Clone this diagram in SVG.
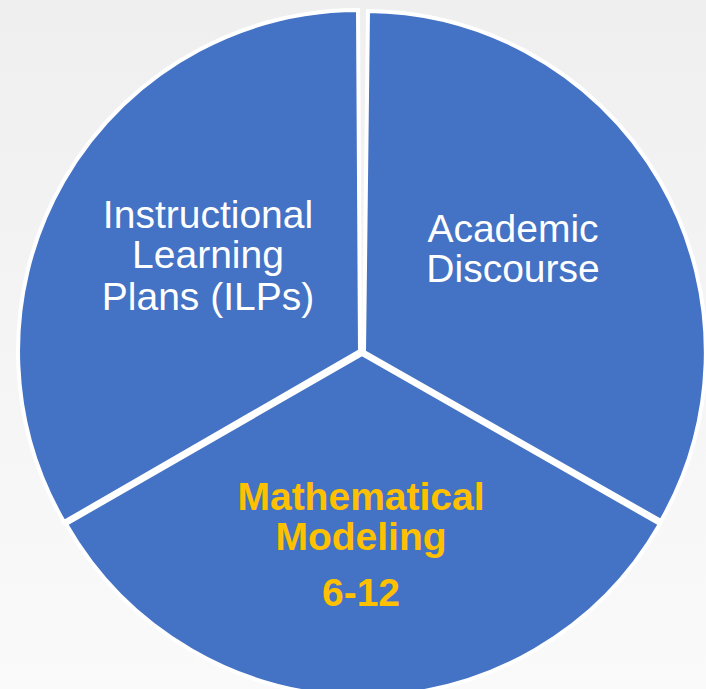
<svg xmlns="http://www.w3.org/2000/svg" width="706" height="689" viewBox="0 0 706 689">
<defs>
<linearGradient id="bg" x1="0" y1="0" x2="0" y2="1">
<stop offset="0" stop-color="#efefef"/>
<stop offset="1" stop-color="#fafafa"/>
</linearGradient>
</defs>
<style>
.seg{fill:#4472C4;stroke:#ffffff;stroke-width:4;stroke-linejoin:miter}
.t{font-family:"Liberation Sans",Arial,sans-serif;font-size:39px;fill:#ffffff;text-anchor:middle}
.y{font-family:"Liberation Sans",Arial,sans-serif;font-size:39px;font-weight:bold;fill:#FFC000;text-anchor:middle}
</style>
<rect x="0" y="0" width="706" height="689" fill="url(#bg)"/>
<g id="connectors"></g>
<g id="node-bottom">
<path class="seg" d="M362 354 L660 524 A342 342 0 0 1 66 524 Z"/>
<text class="y" x="361" y="510">Mathematical</text>
<text class="y" x="361" y="550">Modeling</text>
<text class="y" x="361" y="606">6-12</text>
</g>
<g id="node-left">
<path class="seg" d="M360 351 L64 522 A341 341 0 0 1 358 10 Z"/>
<text class="t" x="208" y="228">Instructional</text>
<text class="t" x="208" y="268">Learning</text>
<text class="t" x="208" y="310">Plans (ILPs)</text>
</g>
<g id="node-right">
<path class="seg" d="M364 352 L368 11 A341 341 0 0 1 661 521 Z"/>
<text class="t" x="513" y="242">Academic</text>
<text class="t" x="513" y="282">Discourse</text>
</g>
</svg>
